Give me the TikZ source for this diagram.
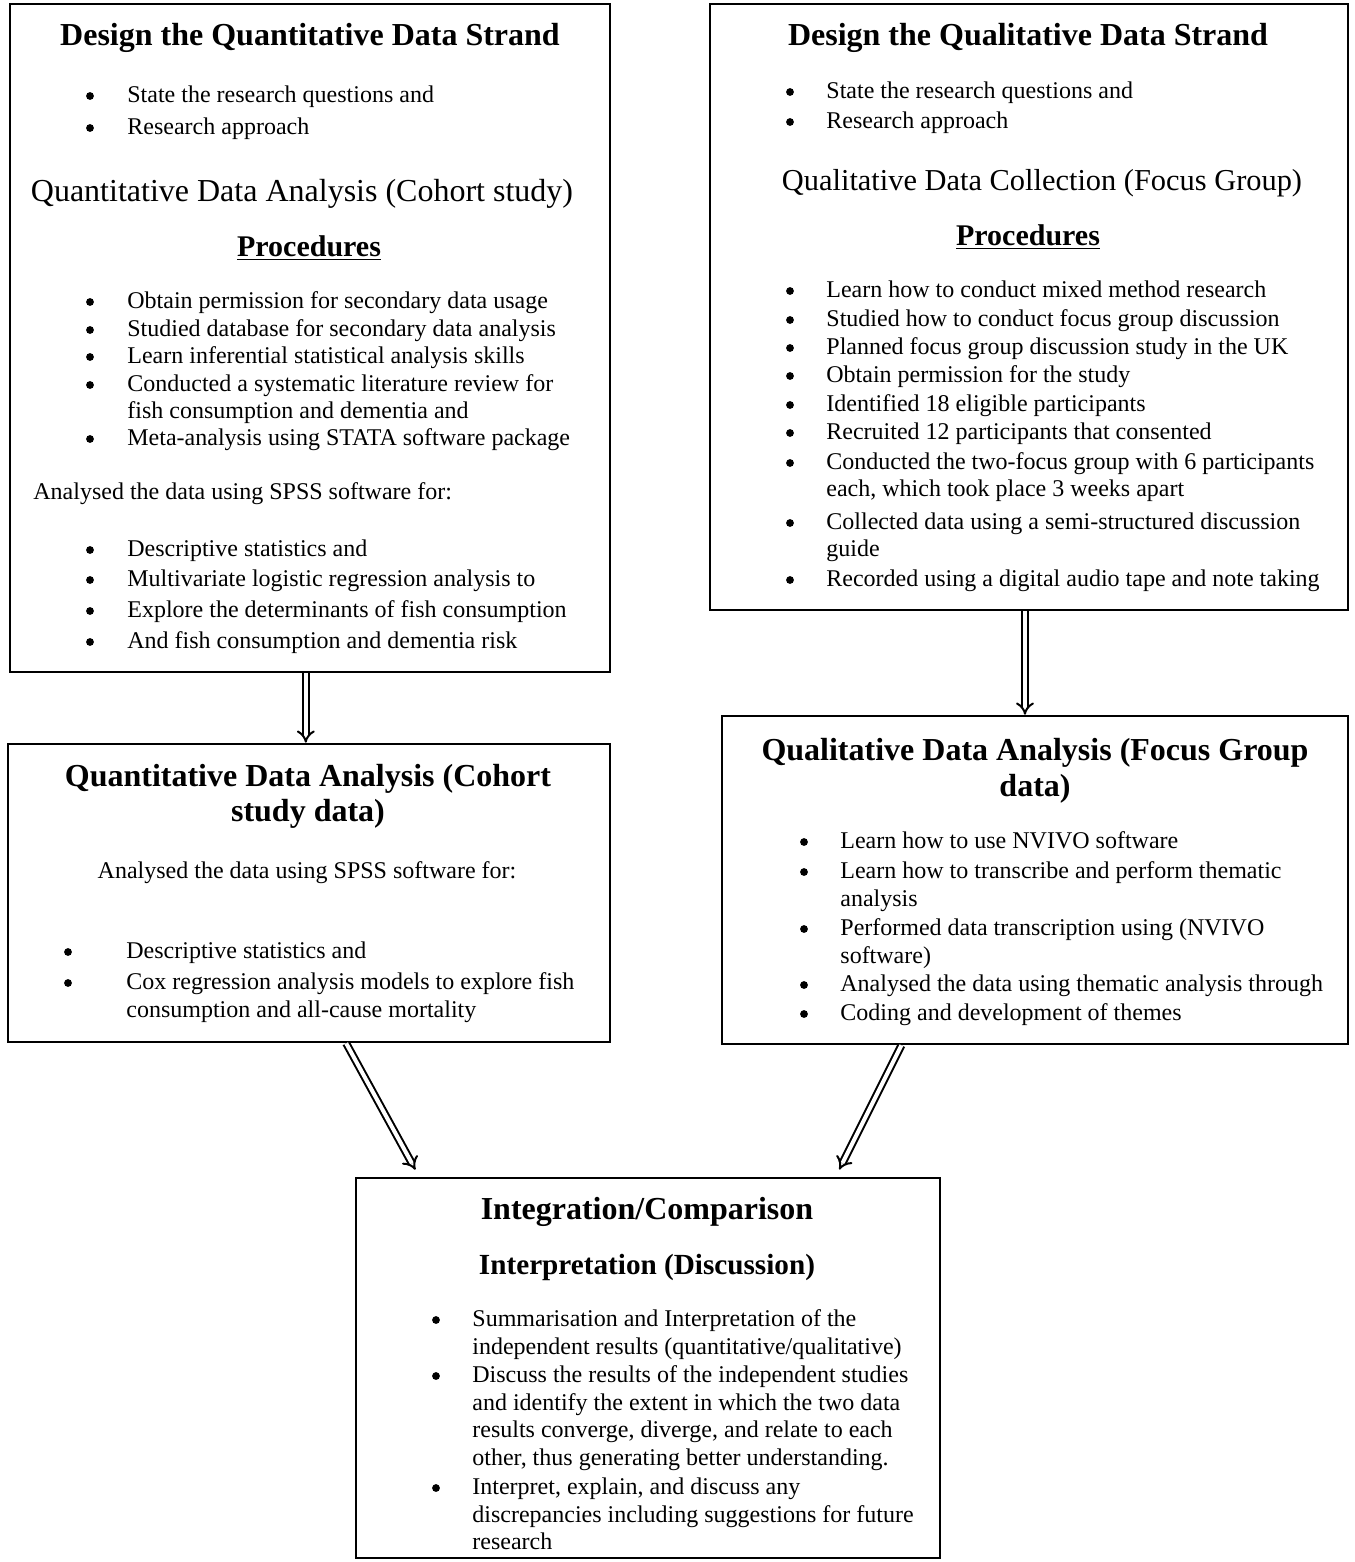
\documentclass[tikz,border=0pt]{standalone}
\usepackage{fontspec}
\setmainfont{Liberation Serif}
\usetikzlibrary{arrows.meta,calc,fit}

% running number for the automatically named text lines
\newcounter{lineno}
% a bulleted line: bullet x, text x, y, text
\newcommand\bul[4]{%
  \stepcounter{lineno}%
  \node[dot] (b\thelineno) at (#1,#3) {};
  \node[txt] (t\thelineno) at (#2,#3) {#4};}
% a continuation line of a bullet: text x, y, text
\newcommand\cont[3]{%
  \stepcounter{lineno}%
  \node[txt] (t\thelineno) at (#1,#2) {#3};}

\begin{document}
\begin{tikzpicture}[x=0.5pt,y=-0.5pt,
  box/.style={draw, line width=1.3pt, inner sep=0pt},
  txt/.style={anchor=mid west, inner sep=0pt, yshift=-2pt, font=\fontsize{12}{14}\selectfont},
  dot/.style={circle, fill=black, inner sep=0pt, minimum size=3.9pt, yshift=-1pt},
  plain/.style={anchor=mid, inner sep=0pt, yshift=-2pt, font=\fontsize{12}{14}\selectfont},
  head/.style={anchor=mid, inner sep=0pt, yshift=-2.5pt, font=\fontsize{16}{18}\selectfont\bfseries},
  subhead/.style={anchor=mid, inner sep=0pt, yshift=-2.5pt, font=\fontsize{15}{17}\selectfont\bfseries},
  sub/.style={anchor=mid, inner sep=0pt, yshift=-2.5pt, font=\fontsize{16}{18}\selectfont},
  flow/.style={double, double distance=2pt, line width=1pt, -{Implies}}
]
\useasboundingbox (0,0) rectangle (1354,1562);

% ---------- boxes ----------
\node[box, fit={(10,4) (610,672)}] (A) {};
\node[box, fit={(710,4) (1348,610)}] (B) {};
\node[box, fit={(8,744) (610,1042)}] (C) {};
\node[box, fit={(722,716) (1348,1044)}] (D) {};
\node[box, fit={(356,1178) (940,1558)}] (E) {};

% ---------- quantitative design ----------
\node[head] (a0) at (310,36) {Design the Quantitative Data Strand};
\bul{90}{127}{94}{State the research questions and}
\bul{90}{127}{126}{Research approach}
\node[sub] (a1) at (302,192) {Quantitative Data Analysis (Cohort study)};
\node[subhead] (a2) at (309,247) {\underline{Procedures}};
\bul{90}{127}{300}{Obtain permission for secondary data usage}
\bul{90}{127}{328}{Studied database for secondary data analysis}
\bul{90}{127}{355}{Learn inferential statistical analysis skills}
\bul{90}{127}{383}{Conducted a systematic literature review for}
\cont{127}{410}{fish consumption and dementia and}
\bul{90}{127}{437}{Meta-analysis using STATA software package}
\node[txt] (a3) at (33,491) {Analysed the data using SPSS software for:};
\bul{90}{127}{548}{Descriptive statistics and}
\bul{90}{127}{578}{Multivariate logistic regression analysis to}
\bul{90}{127}{609}{Explore the determinants of fish consumption}
\bul{90}{127}{640}{And fish consumption and dementia risk}

% ---------- qualitative design ----------
\node[head] (q0) at (1028,36) {Design the Qualitative Data Strand};
\bul{790}{826}{90}{State the research questions and}
\bul{790}{826}{120}{Research approach}
\node[sub, font=\fontsize{15.2}{17}\selectfont] (q1) at (1042,181) {Qualitative Data Collection (Focus Group)};
\node[subhead] (q2) at (1028,236) {\underline{Procedures}};
\bul{790}{826}{289}{Learn how to conduct mixed method research}
\bul{790}{826}{318}{Studied how to conduct focus group discussion}
\bul{790}{826}{346}{Planned focus group discussion study in the UK}
\bul{790}{826}{374}{Obtain permission for the study}
\bul{790}{826}{403}{Identified 18 eligible participants}
\bul{790}{826}{431}{Recruited 12 participants that consented}
\bul{790}{826}{461}{Conducted the two-focus group with 6 participants}
\cont{826}{488}{each, which took place 3 weeks apart}
\bul{790}{826}{521}{Collected data using a semi-structured discussion}
\cont{826}{548}{guide}
\bul{790}{826}{578}{Recorded using a digital audio tape and note taking}

% ---------- quantitative analysis ----------
\node[head] (c0) at (308,777) {Quantitative Data Analysis (Cohort};
\node[head] (c1) at (308,812) {study data)};
\node[plain] (c2) at (307,870) {Analysed the data using SPSS software for:};
\bul{68}{126}{950}{Descriptive statistics and}
\bul{68}{126}{981}{Cox regression analysis models to explore fish}
\cont{126}{1009}{consumption and all-cause mortality}

% ---------- qualitative analysis ----------
\node[head] (d0) at (1035,751) {Qualitative Data Analysis (Focus Group};
\node[head] (d1) at (1035,787) {data)};
\bul{804}{840}{840}{Learn how to use NVIVO software}
\bul{804}{840}{870}{Learn how to transcribe and perform thematic}
\cont{840}{898}{analysis}
\bul{804}{840}{927}{Performed data transcription using (NVIVO}
\cont{840}{955}{software)}
\bul{804}{840}{983}{Analysed the data using thematic analysis through}
\bul{804}{840}{1012}{Coding and development of themes}

% ---------- integration ----------
\node[head] (e0) at (647,1210) {Integration/Comparison};
\node[anchor=mid, inner sep=0pt, yshift=-2.5pt, font=\fontsize{14.6}{16}\selectfont\bfseries] (e1) at (647,1265) {Interpretation (Discussion)};
\bul{436}{472}{1318}{Summarisation and Interpretation of the}
\cont{472}{1346}{independent results (quantitative/qualitative)}
\bul{436}{472}{1374}{Discuss the results of the independent studies}
\cont{472}{1402}{and identify the extent in which the two data}
\cont{472}{1429}{results converge, diverge, and relate to each}
\cont{472}{1457}{other, thus generating better understanding.}
\bul{436}{472}{1486}{Interpret, explain, and discuss any}
\cont{472}{1514}{discrepancies including suggestions for future}
\cont{472}{1541}{research}

% ---------- connectors ----------
\coordinate (aout) at ($(A.south west)!0.493!(A.south east)$);
\coordinate (bout) at ($(B.south west)!0.4937!(B.south east)$);
\draw[flow] (aout) -- (aout |- C.north);
\draw[flow] (bout) -- (bout |- D.north);
\draw[flow, shorten >=4pt] ($(C.south west)!0.5615!(C.south east)$) -- ($(E.north west)!0.11!(E.north east)$);
\draw[flow, shorten >=4pt] ($(D.south west)!0.2875!(D.south east)$) -- ($(E.north west)!0.82!(E.north east)$);
\end{tikzpicture}
\end{document}
